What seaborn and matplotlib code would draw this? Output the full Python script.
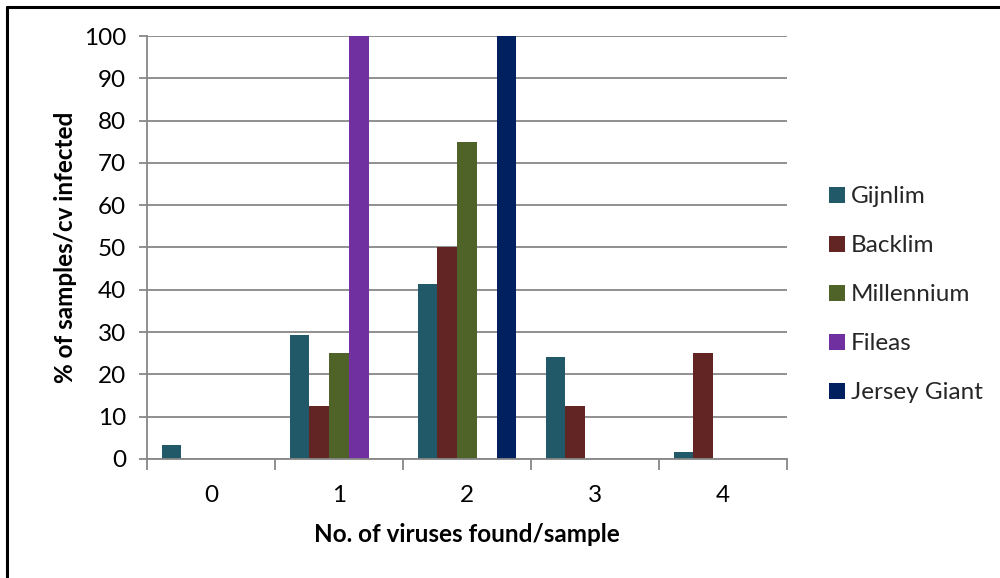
import numpy as np
import pandas as pd
import matplotlib
matplotlib.use("Agg")
import matplotlib.pyplot as plt
from matplotlib.lines import Line2D
from matplotlib.ticker import FixedLocator, NullFormatter
import seaborn as sns

# Number of viruses found per sample
categories = ["0", "1", "2", "3", "4"]

# % of samples per cultivar infected
gijnlim = [3.4, 29.3, 41.4, 24.1, 1.7]
backlim = [0, 12.5, 50, 12.5, 25]
millennium = [0, 25, 75, 0, 0]
fileas = [0, 100, 0, 0, 0]
jersey_giant = [0, 0, 100, 0, 0]

series_names = ["Gijnlim", "Backlim", "Millennium", "Fileas", "Jersey Giant"]
series_values = [gijnlim, backlim, millennium, fileas, jersey_giant]
colors = ["#215968", "#632523", "#4f6228", "#7030a0", "#002060"]

df = pd.DataFrame(
    [(c, name, v) for name, vals in zip(series_names, series_values)
     for c, v in zip(categories, vals)],
    columns=["viruses", "cultivar", "pct"],
)

sns.set_theme(style="white")
plt.rcParams["font.family"] = ["Lato", "DejaVu Sans"]

FS = 17.5

fig = plt.figure(figsize=(10, 5.78), dpi=100)
ax = fig.add_axes([0.147, 0.2059, 0.640, 0.7318])

sns.barplot(
    data=df, x="viruses", y="pct", hue="cultivar",
    order=categories, hue_order=series_names,
    palette=colors, width=0.77, linewidth=0, saturation=1,
    ax=ax, legend=False, errorbar=None,
)

grid_c = "#878787"
ax.set_ylim(0, 100)
ax.set_xlim(-0.5, len(categories) - 0.5)
ax.set_yticks(np.arange(0, 101, 10))
ax.yaxis.grid(True, color=grid_c, linewidth=1.3)
ax.set_axisbelow(True)

for side in ["top", "right"]:
    ax.spines[side].set_visible(False)
for side in ["left", "bottom"]:
    ax.spines[side].set_color(grid_c)
    ax.spines[side].set_linewidth(1.3)

ax.tick_params(axis="y", which="major", left=True, length=6, width=1.3,
               color=grid_c, labelsize=FS, pad=9, labelcolor="black")
ax.tick_params(axis="x", which="major", bottom=False, labelsize=FS,
               pad=13, labelcolor="black")
# category boundary ticks on the x axis
ax.xaxis.set_minor_locator(FixedLocator(np.arange(-0.5, len(categories), 1.0)))
ax.xaxis.set_minor_formatter(NullFormatter())
ax.tick_params(axis="x", which="minor", bottom=True, length=8, width=1.3,
               color=grid_c)

ax.set_xlabel("No. of viruses found/sample", fontsize=FS, fontweight="bold",
              labelpad=12, color="black")
ax.set_ylabel("% of samples/cv infected", fontsize=FS, fontweight="bold",
              labelpad=5, color="black")

handles = [plt.Rectangle((0, 0), 1, 1, facecolor=c, edgecolor="none")
           for c in colors]
ax.legend(handles, series_names, loc="center left",
          bbox_to_anchor=(1.050, 0.388), frameon=False, fontsize=FS,
          handlelength=0.66, handleheight=0.66, handletextpad=0.25,
          labelspacing=1.15, borderaxespad=0)

# chart frame lines along the top and left edges
fig.add_artist(Line2D([0.007, 1.0], [0.988, 0.988], color="black",
                      linewidth=2.2, transform=fig.transFigure))
fig.add_artist(Line2D([0.007, 0.007], [0.0, 0.988], color="black",
                      linewidth=2.2, transform=fig.transFigure))

fig.savefig("out.png", dpi=100, facecolor="white")
